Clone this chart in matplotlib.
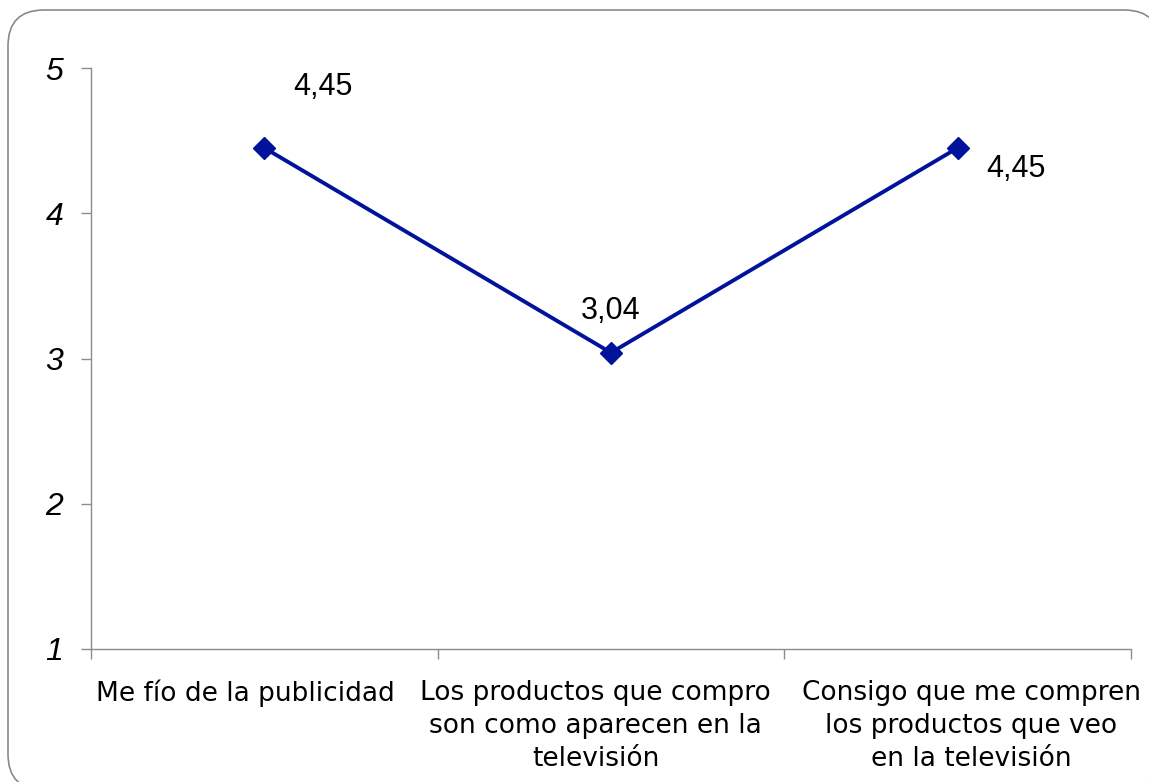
import numpy as np
import matplotlib
matplotlib.use("Agg")
import matplotlib.pyplot as plt
import matplotlib.transforms as mtransforms
from matplotlib.patches import FancyBboxPatch, PathPatch
from matplotlib.path import Path
from matplotlib.transforms import IdentityTransform

# Data
categories = [
    "Me fío de la publicidad",
    "Los productos que compro\nson como aparecen en la\ntelevisión",
    "Consigo que me compren\nlos productos que veo\nen la televisión",
]
values = [4.45, 3.04, 4.45]
value_labels = ["4,45", "3,04", "4,45"]
y_ticks = [1, 2, 3, 4, 5]

# label offsets in points (dx, dy)
label_offsets = [(42, 44), (0, 30), (42, -15)]
# horizontal nudges of the category labels (points)
cat_shift = [-14, -11, 10]

LINE_COLOR = "#00139A"
AXIS_COLOR = "#8c8c8c"

fig = plt.figure(figsize=(11.49, 7.82), dpi=100)
ax = fig.add_axes([0.0792, 0.1701, 0.9051, 0.7429])

# Rounded frame around the chart (pixel coordinates, origin bottom-left)
box = FancyBboxPatch((8, -8), 1152, 780, boxstyle="round,pad=0,rounding_size=36")
poly = box.get_path().to_polygons(closed_only=False)[0]
frame = PathPatch(Path(poly), transform=IdentityTransform(), facecolor="none",
                  edgecolor="#8a8a8a", linewidth=1.2, clip_on=False)
fig.patches.append(frame)

x = np.arange(len(values))
ax.plot(x, values, color=LINE_COLOR, linewidth=2.8, marker="D", markersize=11,
        markerfacecolor=LINE_COLOR, markeredgecolor=LINE_COLOR)

for xi, v, lab, (dx, dy) in zip(x, values, value_labels, label_offsets):
    ax.annotate(lab, (xi, v), xytext=(dx, dy), textcoords="offset points",
                ha="center", va="center", fontsize=22, family="Liberation Sans")

ax.set_xlim(-0.5, len(values) - 0.5)
ax.set_ylim(1, 5)

# y axis
ax.set_yticks(y_ticks)
ax.set_yticklabels([str(t) for t in y_ticks], fontsize=23, style="italic",
                   family="Liberation Sans")
ax.tick_params(axis="y", direction="out", length=7, width=1, color=AXIS_COLOR, pad=13)

# x axis: ticks at category boundaries, labels at centers
ax.set_xticks(np.arange(-0.5, len(values), 1.0))
ax.set_xticklabels([])
ax.set_xticks(x, minor=True)
ax.set_xticklabels(categories, minor=True, fontsize=19, family="DejaVu Sans",
                   linespacing=1.36, va="top")
ax.tick_params(axis="x", which="major", direction="out", length=7, width=1, color=AXIS_COLOR)
ax.tick_params(axis="x", which="minor", length=0, pad=22)

for lbl, s in zip(ax.get_xticklabels(minor=True), cat_shift):
    off = mtransforms.ScaledTranslation(s / 72, 0, fig.dpi_scale_trans)
    lbl.set_transform(lbl.get_transform() + off)

for side in ["top", "right"]:
    ax.spines[side].set_visible(False)
for side in ["left", "bottom"]:
    ax.spines[side].set_color(AXIS_COLOR)
    ax.spines[side].set_linewidth(1)

fig.savefig("out.png", dpi=100)
